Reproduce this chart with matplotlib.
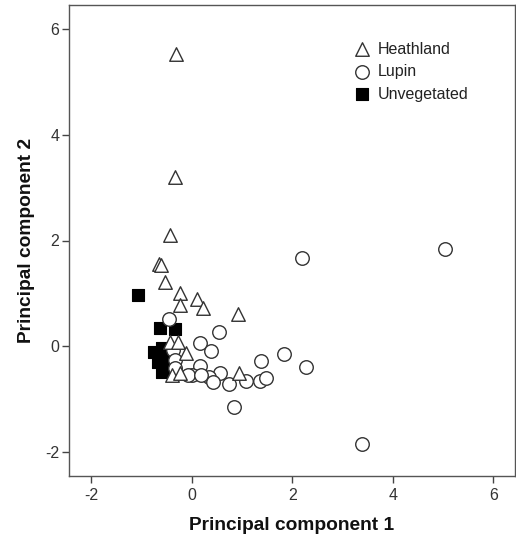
import matplotlib
matplotlib.use("Agg")
import matplotlib.pyplot as plt

plt.rcParams['font.family'] = ['Liberation Sans', 'DejaVu Sans']

# Heathland
heath_x = [-0.32, -0.33, -0.43, -0.65, -0.62, -0.53, -0.23, -0.23, 0.10, 0.23, 0.93,
           -0.44, -0.27, -0.11, -0.40, -0.24, 0.95]
heath_y = [5.53, 3.20, 2.10, 1.56, 1.54, 1.22, 1.00, 0.79, 0.90, 0.72, 0.62,
           0.09, 0.09, -0.13, -0.54, -0.50, -0.50]
# Lupin
lupin_x = [5.03, 2.20, 3.39, -0.46, 0.55, 0.16, 0.38, 1.83, 1.37, 2.28, 0.16, 0.56,
           0.00, 0.35, 0.42, 0.75, 1.08, 1.36, 1.48, 0.85, -0.37, -0.34, -0.34,
           -0.07, 0.19]
lupin_y = [1.84, 1.66, -1.85, 0.51, 0.28, 0.07, -0.08, -0.14, -0.28, -0.39, -0.37, -0.50,
           -0.55, -0.58, -0.67, -0.72, -0.66, -0.66, -0.60, -1.14, -0.07, -0.26, -0.41,
           -0.54, -0.54]
# Unvegetated
unveg_x = [-1.07, -0.64, -0.34, -0.74, -0.60, -0.67, -0.60, -0.57, -0.55]
unveg_y = [0.97, 0.34, 0.33, -0.10, -0.03, -0.29, -0.48, -0.40, -0.17]

labels = ["Heathland", "Lupin", "Unvegetated"]
ticks = [-2, 0, 2, 4, 6]

fig = plt.figure(figsize=(5.16, 5.44), dpi=100)
ax = fig.add_axes([69/516, 68/544, 446/516, 471/544])

edge = '#333333'
h3 = ax.scatter(unveg_x, unveg_y, marker='s', s=70, facecolor='black',
                edgecolor='black', linewidths=0.8, label=labels[2], zorder=2)
h2 = ax.scatter(lupin_x, lupin_y, marker='o', s=95, facecolor='white',
                edgecolor=edge, linewidths=1.0, label=labels[1], zorder=3)
h1 = ax.scatter(heath_x, heath_y, marker='^', s=95, facecolor='white',
                edgecolor=edge, linewidths=1.0, label=labels[0], zorder=4)

ax.set_xlim(-2.44, 6.43)
ax.set_ylim(-2.45, 6.45)
ax.set_xticks(ticks)
ax.set_yticks(ticks)
ax.set_xticklabels([str(t) for t in ticks])
ax.set_yticklabels([str(t) for t in ticks])

for sp in ax.spines.values():
    sp.set_color('#555555')
    sp.set_linewidth(1.0)
ax.tick_params(axis='both', direction='out', length=5, width=1.0, color='#444444',
               labelsize=11.5, labelcolor='#333333')
ax.tick_params(axis='x', pad=4)
ax.tick_params(axis='y', pad=2)

ax.set_xlabel("Principal component 1", fontsize=13.8, fontweight='bold',
              color='#111111', labelpad=10)
ax.set_ylabel("Principal component 2", fontsize=13.8, fontweight='bold',
              color='#111111', labelpad=7)

leg = ax.legend(handles=[h1, h2, h3], labels=labels, loc='upper left',
                bbox_to_anchor=(0.629, 0.936), frameon=False, fontsize=11.5,
                handlelength=0.8, handletextpad=0.55, labelspacing=0.47,
                borderaxespad=0, scatterpoints=1)
for t in leg.get_texts():
    t.set_color('#222222')

fig.savefig("out.png", dpi=100, facecolor='white')
